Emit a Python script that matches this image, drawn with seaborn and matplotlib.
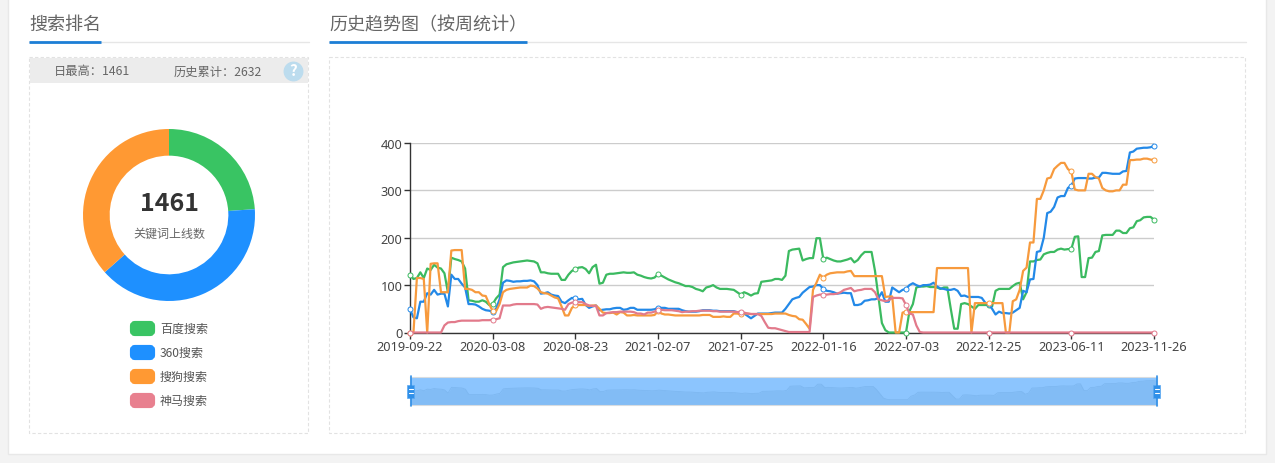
import numpy as np
import pandas as pd
import matplotlib
matplotlib.use('Agg')
import matplotlib.pyplot as plt
from matplotlib.patches import Rectangle, FancyBboxPatch
import seaborn as sns

# weekly data (two weeks are absent from the source axis)
all_weeks = pd.date_range('2019-09-22', '2023-11-26', freq='7D')
dates = all_weeks.drop([pd.Timestamp('2021-10-17'), pd.Timestamp('2022-10-09')])
tick_labels = ['2019-09-22', '2020-03-08', '2020-08-23', '2021-02-07', '2021-07-25',
               '2022-01-16', '2022-07-03', '2022-12-25', '2023-06-11', '2023-11-26']

baidu = [122, 113, 115, 127, 115, 135, 132, 143, 137, 135, 125, 85, 158, 155, 153, 150, 135, 68, 67, 65, 65, 68, 65, 58,
         60, 72, 80, 138, 144, 146, 148, 149, 150, 151, 152, 151, 150, 146, 127, 127, 125, 124, 124, 124, 111, 111, 122, 130,
         134, 137, 138, 134, 125, 138, 143, 103, 105, 122, 124, 124, 125, 126, 127, 126, 126, 127, 122, 120, 117, 115, 114, 116,
         123, 120, 116, 112, 109, 106, 104, 101, 98, 98, 96, 92, 90, 87, 95, 97, 100, 95, 92, 92, 92, 91, 90, 85,
         80, 85, 82, 78, 82, 83, 107, 108, 109, 110, 113, 113, 111, 120, 172, 175, 176, 177, 152, 155, 157, 157, 199, 199,
         155, 158, 155, 152, 150, 150, 152, 154, 157, 148, 153, 163, 170, 170, 170, 130, 75, 20, 5, 0, 0, 0, 0, 0,
         0, 45, 60, 95, 97, 97, 98, 96, 96, 95, 92, 95, 95, 50, 8, 8, 60, 62, 60, 55, 50, 58, 58, 58,
         58, 55, 88, 92, 92, 92, 92, 98, 103, 105, 70, 85, 150, 150, 153, 154, 165, 168, 170, 170, 175, 177, 175, 176,
         176, 202, 203, 117, 117, 157, 158, 170, 172, 205, 206, 206, 206, 215, 215, 210, 210, 220, 222, 235, 237, 243, 244, 244,
         238]

so360 = [49, 32, 30, 65, 65, 83, 80, 90, 80, 82, 82, 55, 122, 113, 113, 103, 95, 60, 60, 59, 55, 50, 47, 46,
         44, 50, 70, 105, 110, 109, 107, 108, 108, 109, 109, 110, 108, 100, 82, 83, 85, 80, 78, 77, 65, 62, 68, 73,
         72, 70, 71, 58, 52, 55, 57, 47, 48, 49, 49, 51, 52, 52, 48, 49, 52, 52, 48, 48, 48, 48, 48, 49,
         52, 52, 52, 50, 50, 50, 50, 47, 45, 44, 44, 44, 45, 47, 47, 47, 46, 46, 45, 45, 45, 45, 45, 43,
         41, 40, 35, 30, 35, 40, 40, 40, 40, 41, 42, 42, 42, 50, 60, 70, 73, 75, 84, 90, 96, 97, 100, 100,
         92, 88, 87, 85, 82, 83, 84, 83, 83, 58, 58, 60, 67, 68, 70, 70, 73, 85, 65, 65, 95, 90, 85, 90,
         92, 100, 104, 100, 97, 100, 100, 101, 105, 97, 93, 92, 90, 90, 92, 88, 77, 78, 75, 75, 75, 75, 73, 63,
         60, 50, 38, 44, 41, 41, 40, 42, 47, 52, 88, 85, 112, 113, 170, 172, 200, 252, 255, 265, 285, 288, 288, 305,
         310, 325, 326, 326, 326, 325, 325, 327, 327, 337, 337, 336, 335, 335, 335, 340, 341, 380, 382, 388, 389, 390, 390, 391,
         394]

sogou = [0, 0, 115, 115, 113, 0, 145, 146, 146, 85, 85, 85, 173, 174, 174, 174, 92, 92, 90, 85, 85, 78, 77, 60,
         45, 45, 60, 85, 90, 92, 93, 94, 95, 95, 95, 99, 98, 93, 85, 83, 82, 78, 74, 72, 55, 36, 36, 52,
         57, 58, 58, 58, 56, 57, 57, 50, 42, 41, 41, 42, 38, 43, 42, 36, 36, 37, 36, 36, 36, 36, 36, 37,
         45, 40, 38, 38, 37, 36, 36, 36, 36, 36, 36, 36, 36, 37, 37, 37, 33, 33, 33, 34, 33, 33, 40, 40,
         38, 40, 40, 39, 39, 39, 39, 39, 39, 39, 40, 40, 40, 40, 37, 35, 34, 28, 27, 18, 8, 90, 105, 122,
         116, 122, 125, 126, 127, 127, 127, 129, 130, 119, 119, 119, 119, 119, 119, 119, 119, 119, 75, 76, 76, 0, 0, 42,
         44, 43, 43, 43, 43, 43, 43, 43, 43, 136, 136, 136, 136, 136, 136, 136, 136, 136, 136, 0, 62, 62, 62, 62,
         62, 62, 62, 62, 62, 0, 0, 66, 70, 90, 130, 137, 190, 190, 282, 282, 300, 325, 327, 345, 352, 358, 358, 345,
         340, 302, 300, 300, 300, 335, 335, 328, 325, 305, 300, 298, 298, 300, 300, 312, 312, 364, 364, 365, 365, 367, 367, 365,
         364]

shenma = [0, 0, 0, 0, 0, 0, 0, 0, 0, 0, 15, 21, 22, 22, 24, 25, 25, 25, 25, 25, 25, 26, 26, 26,
          27, 28, 30, 57, 57, 57, 59, 60, 60, 60, 60, 60, 60, 59, 50, 53, 54, 53, 52, 51, 50, 48, 60, 63,
          64, 64, 64, 60, 57, 56, 56, 36, 36, 41, 42, 43, 43, 44, 44, 44, 44, 43, 40, 40, 38, 42, 42, 44,
          48, 48, 47, 47, 47, 46, 45, 43, 44, 44, 45, 45, 46, 46, 46, 46, 45, 45, 44, 44, 44, 44, 44, 43,
          44, 42, 40, 39, 39, 39, 35, 22, 10, 9, 9, 7, 5, 3, 1, 1, 1, 1, 1, 1, 1, 75, 78, 80,
          80, 80, 81, 81, 82, 85, 90, 92, 94, 87, 89, 90, 92, 92, 92, 85, 70, 68, 66, 68, 73, 73, 73, 72,
          58, 40, 38, 15, 1, 0, 0, 0, 0, 0, 0, 0, 0, 0, 0, 0, 0, 0, 0, 0, 0, 0, 0, 0,
          0, 0, 0, 0, 0, 0, 0, 0, 0, 0, 0, 0, 0, 0, 0, 0, 0, 0, 0, 0, 0, 0, 0, 0,
          0, 0, 0, 0, 0, 0, 0, 0, 0, 0, 0, 0, 0, 0, 0, 0, 0, 0, 0, 0, 0, 0, 0, 0,
          0]

series_names = ['百度搜索', '360搜索', '搜狗搜索', '神马搜索']
series_values = [baidu, so360, sogou, shenma]
series_colors = ['#39c463', '#1e90ff', '#ff9933', '#e8808f']
line_colors = ['#3bba60', '#2389e8', '#f79a3d', '#e27a8b']
donut_values = [238, 393, 364, 0]

sns.set_theme(style='white')
plt.rcParams['font.family'] = ['Noto Sans CJK SC', 'DejaVu Sans']

W, H = 1275, 464
fig = plt.figure(figsize=(W / 100, H / 100), dpi=100, facecolor='#f3f3f3')


def px_axes(left, top, right, bottom, **kw):
    return fig.add_axes([left / W, 1 - bottom / H, (right - left) / W, (bottom - top) / H], **kw)


# page furniture in pixel coords
bg = px_axes(0, 0, W, H)
bg.set_xlim(0, W)
bg.set_ylim(H, 0)
bg.axis('off')
bg.add_patch(Rectangle((8, -5), 1258, 460, fc='white', ec='#e8e8e8', lw=1))

# section headings
bg.plot([29, 309], [42.5, 42.5], color='#e6e6e6', lw=1)
bg.plot([29, 101], [43, 43], color='#1c7ed6', lw=2, solid_capstyle='butt')
bg.plot([329, 1246], [42.5, 42.5], color='#e6e6e6', lw=1)
bg.plot([329, 527], [43, 43], color='#1c7ed6', lw=2, solid_capstyle='butt')
bg.text(29, 25, '搜索排名', fontsize=13, color='#666666', va='center')
bg.text(329, 25, '历史趋势图（按周统计）', fontsize=13, color='#666666', va='center')

# dashed panels
bg.add_patch(Rectangle((29, 58), 279, 376, fc='none', ec='#e2e2e2', lw=0.8, ls=(0, (3, 2))))
bg.add_patch(Rectangle((329, 58), 915.5, 376, fc='none', ec='#e2e2e2', lw=0.8, ls=(0, (3, 2))))
bg.add_patch(Rectangle((29.5, 58.5), 278, 25.5, fc='#ececec', ec='none'))
bg.text(92.5, 72, '日最高：1461', fontsize=8.8, color='#666666', ha='center', va='center')
bg.text(217.5, 72, '历史累计：2632', fontsize=8.8, color='#666666', ha='center', va='center')
bg.scatter([293], [71.5], s=205, color='#bcdcee', lw=0)
bg.text(293, 71, '?', fontsize=11, color='white', weight='bold', ha='center', va='center')

# donut
donut = px_axes(83, 130, 255, 302)
donut.pie(donut_values, colors=series_colors, startangle=90, counterclock=False, radius=1,
          wedgeprops={'width': 0.31, 'linewidth': 0})
donut.set_xlim(-1, 1)
donut.set_ylim(-1, 1)
bg.text(169, 204.5, '1461', fontsize=18, color='#333333', weight='bold', ha='center', va='center')
bg.text(169, 234, '关键词上线数', fontsize=8.64, color='#666666', ha='center', va='center')

# legend
for i, name in enumerate(series_names):
    y = 329.5 + i * 24
    bg.add_patch(FancyBboxPatch((132, y - 5.5), 21, 11, boxstyle='round,pad=0,rounding_size=3',
                                fc=series_colors[i], ec=series_colors[i], lw=3))
    bg.text(160, y, name, fontsize=8.64, color='#555555', va='center')

# trend lines, category axis with one slot per week in the source
positions = np.arange(len(dates))
ax = px_axes(410, 144, 1154, 333.5)
ax.patch.set_alpha(0)
for name, vals, col in zip(series_names, series_values, line_colors):
    sns.lineplot(x=positions, y=vals, ax=ax, color=col, linewidth=1.6, marker='o', markevery=24, markersize=3.6,
                 markerfacecolor='white', markeredgecolor=col, markeredgewidth=0.7, clip_on=False, zorder=3)
ax.set_xlim(positions[0], positions[-1])
ax.set_ylim(0, 400)
ax.set_yticks([0, 100, 200, 300, 400])
ax.set_xticks(positions[::24])
ax.set_xticklabels(tick_labels, family='Noto Sans')
for t in ax.get_yticklabels():
    t.set_family('Noto Sans')
ax.set_xlabel('')
ax.set_ylabel('')
ax.grid(axis='y', color='#cccccc', lw=1)
ax.grid(axis='x', visible=False)
ax.set_axisbelow(True)
ax.tick_params(axis='both', length=4, width=1, color='#333333', labelsize=9.2, labelcolor='#444444', pad=1.5,
               left=True, bottom=True)
sns.despine(ax=ax, top=True, right=True)
for s in ['left', 'bottom']:
    ax.spines[s].set_color('#333333')
    ax.spines[s].set_linewidth(1)

# range slider with the baidu shadow
slider = px_axes(410, 378, 1156.5, 406)
slider.set_facecolor('#8cc5fe')
slider.fill_between(positions, baidu, -68, color='#82bcf5', lw=0)
slider.plot(positions, baidu, color='#7db7f0', lw=0.6)
slider.set_xlim(positions[0], positions[-1])
slider.set_ylim(-68, 291)
slider.set_xticks([])
slider.set_yticks([])
slider.set_xlabel('')
for s in slider.spines.values():
    s.set_color('#d8dce0')
    s.set_linewidth(0.8)

bg.set_zorder(0)
slider.set_zorder(1)
donut.set_zorder(1)
ax.set_zorder(2)

# slider handles sit over the slider
top = px_axes(0, 0, W, H)
top.set_xlim(0, W)
top.set_ylim(H, 0)
top.axis('off')
top.set_zorder(3)
for x in [410.5, 1156.5]:
    top.plot([x, x], [377, 407], color='#2f8fe8', lw=1.2)
    top.add_patch(Rectangle((x - 3.5, 386), 7, 13, fc='#2f8fe8', ec='#5aa9f2', lw=0.5))
    top.plot([x - 2, x + 2], [390, 390], color='white', lw=0.8)
    top.plot([x - 2, x + 2], [394, 394], color='white', lw=0.8)

fig.savefig('out.png', dpi=100, facecolor=fig.get_facecolor())
